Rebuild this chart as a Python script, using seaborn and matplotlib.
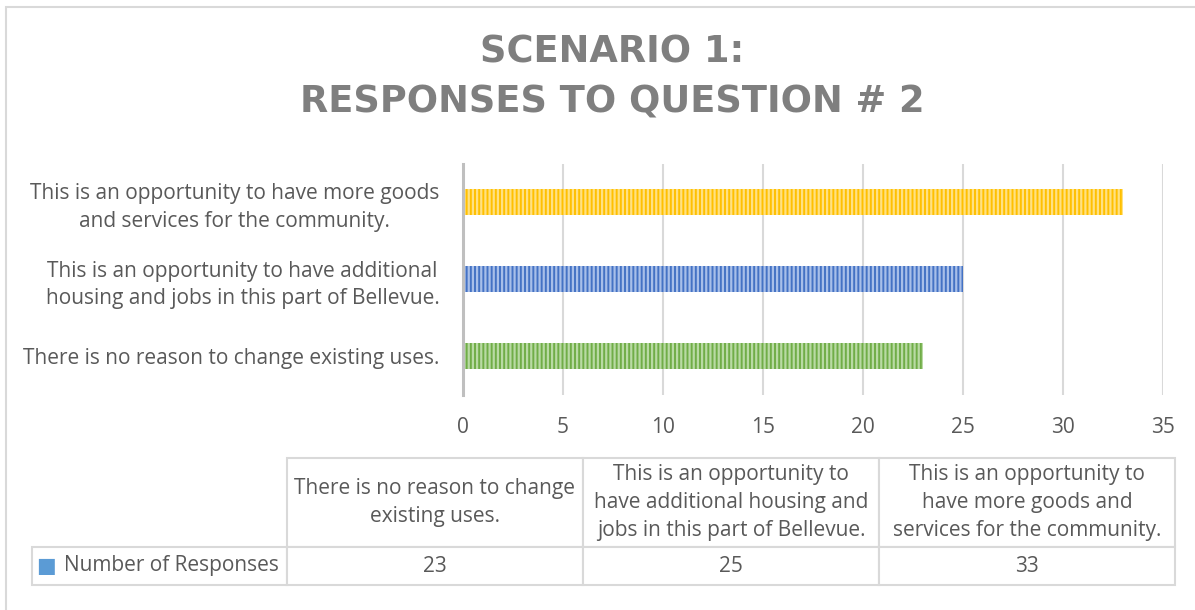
import matplotlib
matplotlib.use("Agg")
import matplotlib.pyplot as plt
import seaborn as sns
from matplotlib.patches import Rectangle

# ---- data (table order: as listed in the data table) ----
categories = [
    "There is no reason to change existing uses.",
    "This is an opportunity to have additional housing and jobs in this part of Bellevue.",
    "This is an opportunity to have more goods and services for the community.",
]
axis_labels = [
    "There is no reason to change existing uses.",
    "This is an opportunity to have additional\nhousing and jobs in this part of Bellevue.",
    "This is an opportunity to have more goods\nand services for the community.",
]
table_headers = [
    "There is no reason to change\nexisting uses.",
    "This is an opportunity to\nhave additional housing and\njobs in this part of Bellevue.",
    "This is an opportunity to\nhave more goods and\nservices for the community.",
]
values = [23, 25, 33]
bar_colors = ["#70AD47", "#4472C4", "#FFC000"]
stripe_colors = ["#B9DAA4", "#A8BFE9", "#FFE183"]
series_name = "Number of Responses"
xticks = [0, 5, 10, 15, 20, 25, 30, 35]
title = "SCENARIO 1:\nRESPONSES TO QUESTION # 2"

sns.set_theme(style="white")
plt.rcParams["font.family"] = ["Open Sans", "DejaVu Sans"]
plt.rcParams["hatch.linewidth"] = 1.6

TEXT = "#595959"
GRID = "#D9D9D9"
FS = 15

W, H = 1195, 610
fig = plt.figure(figsize=(W / 100, H / 100), dpi=100)

# outer chart frame
fig.patches.append(Rectangle((6 / W, -0.05), 1.1, 1 - 7 / H + 0.05, transform=fig.transFigure,
                             facecolor="none", edgecolor=GRID, linewidth=1.5, zorder=0))

ax = fig.add_axes([463 / W, 1 - 394.5 / H, 700 / W, 231 / H])

# bars drawn top-to-bottom in reverse of table order (like Excel)
order = list(range(len(categories)))[::-1]
df_cat = [categories[i] for i in order]
df_val = [values[i] for i in order]
df_col = [bar_colors[i] for i in order]
df_str = [stripe_colors[i] for i in order]

sns.barplot(x=df_val, y=df_cat, hue=df_cat, palette=df_col, orient="h",
            width=0.325, ax=ax, legend=False, saturation=1)
for p, sc in zip(ax.patches, df_str):
    p.set_hatch("||||")
    p.set_edgecolor(sc)
    p.set_linewidth(0)

ax.set_xlim(0, 35)
ax.set_xticks(xticks)
ax.set_yticks(range(len(df_cat)))
ax.set_yticklabels([axis_labels[i] for i in order], multialignment="center", linespacing=1.4)
ax.tick_params(axis="y", length=0, pad=17, labelsize=FS, labelcolor=TEXT)
ax.tick_params(axis="x", length=0, pad=16, labelsize=FS, labelcolor=TEXT)
ax.grid(axis="x", color=GRID, linewidth=1.5)
ax.set_axisbelow(True)
for s in ["top", "right", "bottom"]:
    ax.spines[s].set_visible(False)
ax.spines["left"].set_color("#BFBFBF")
ax.spines["left"].set_linewidth(2.2)
ax.set_xlabel("")
ax.set_ylabel("")

fig.text(612 / W, 1 - 77 / H, title, ha="center", va="center", fontsize=26.5,
         fontweight="bold", color="#7F7F7F", linespacing=1.45,
         family=["DejaVu Sans"])

# data table
tax = fig.add_axes([32 / W, 1 - 585 / H, (1175 - 32) / W, (585 - 458) / H])
tax.axis("off")
tbl = tax.table(cellText=[[series_name] + [str(v) for v in values]],
                colLabels=[""] + table_headers, cellLoc="center",
                colLoc="center", colWidths=[255 / 1143] + [296 / 1143] * 3,
                bbox=[0, 0, 1, 1])
tbl.auto_set_font_size(False)
tbl.set_fontsize(FS)
for (r, c), cell in tbl.get_celld().items():
    cell.set_edgecolor(GRID)
    cell.set_linewidth(1.5)
    cell.get_text().set_color(TEXT)
    cell.get_text().set_linespacing(1.45)
    cell.get_text().set_multialignment("center")
    cell.set_height(89 if r == 0 else 38)
    if r == 0 and c == 0:
        cell.visible_edges = ""
    if r == 1 and c == 0:
        cell._loc = "left"
        cell.get_text().set_ha("left")
        cell.PAD = 0.125
fig.text(46 / W, 1 - 566 / H, "■", color="#5B9BD5", fontsize=15, ha="center", va="center",
         family=["DejaVu Sans"])

fig.savefig("out.png", dpi=100)
